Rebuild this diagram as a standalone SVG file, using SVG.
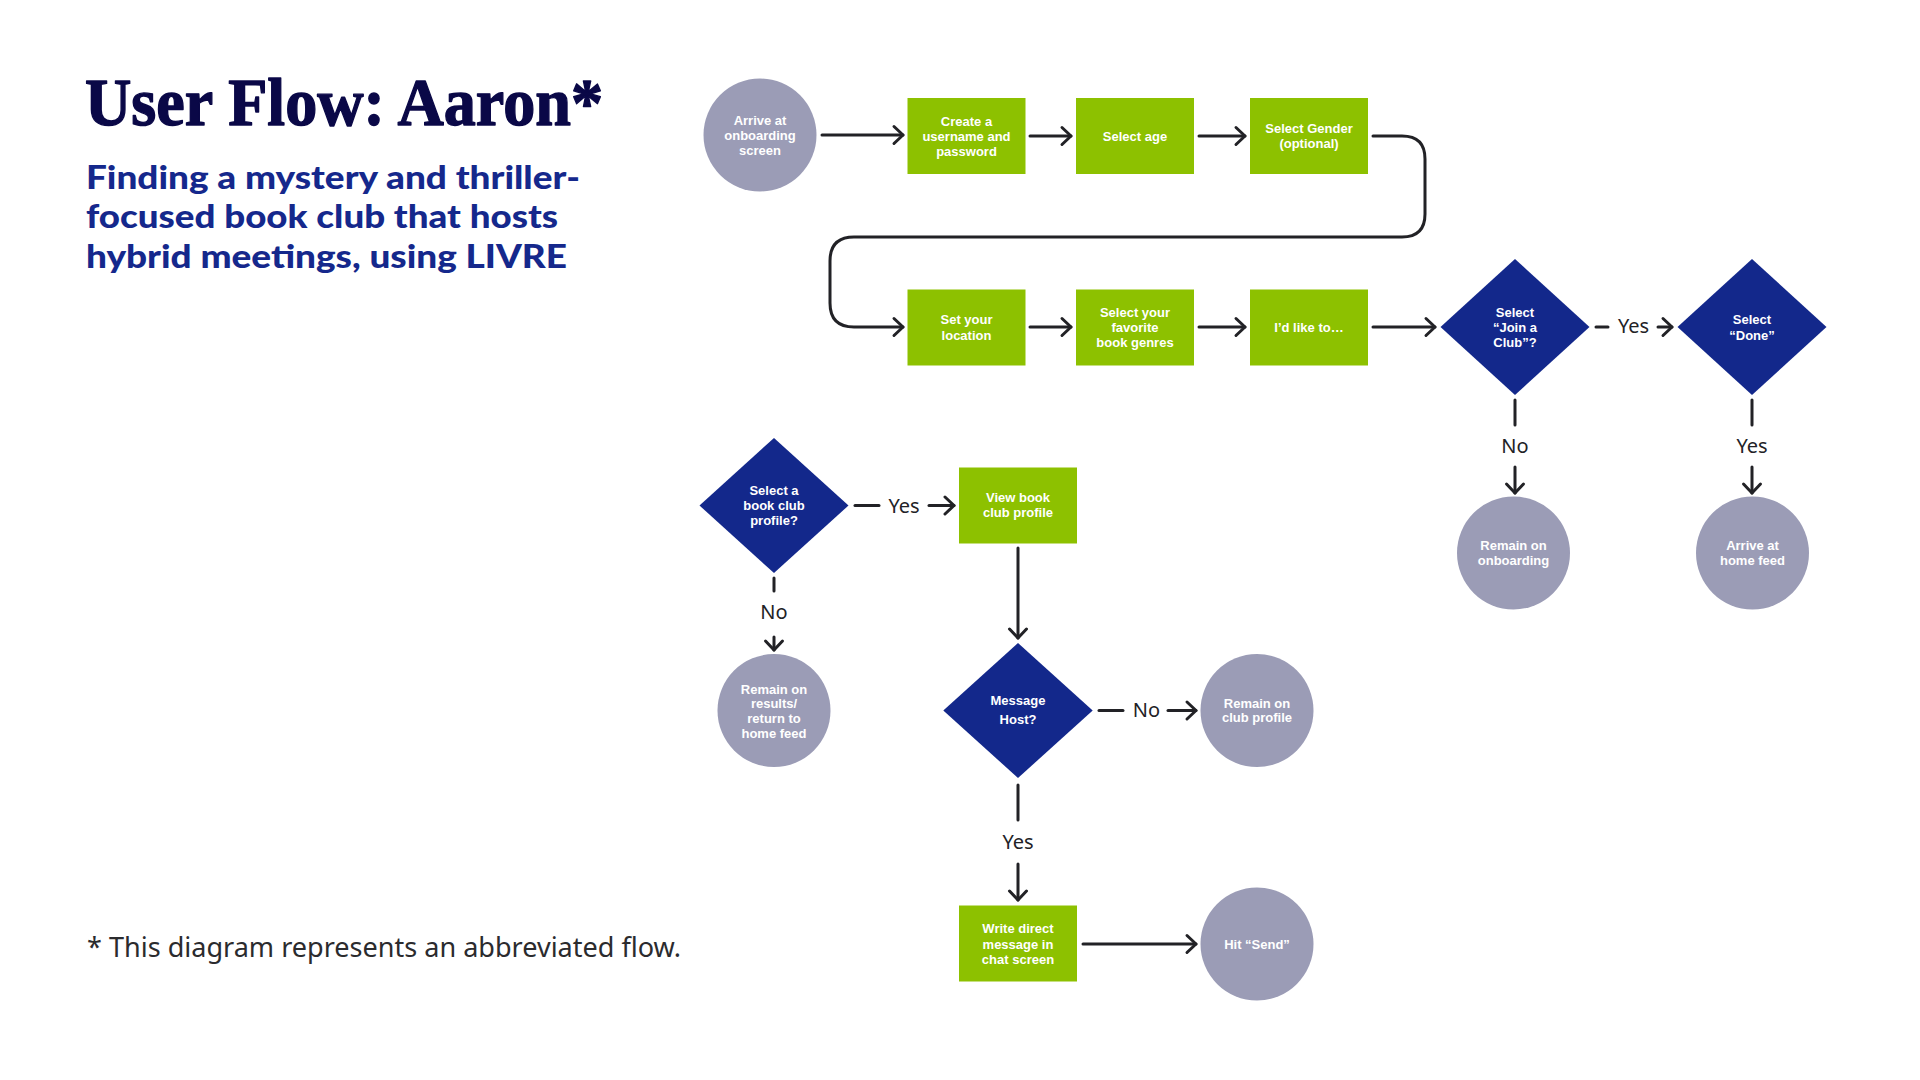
<svg xmlns="http://www.w3.org/2000/svg" width="1920" height="1080" viewBox="0 0 1920 1080">
<defs>
<marker id="ah" viewBox="-12 -11 14 22" refX="0" refY="0" markerWidth="14" markerHeight="22" markerUnits="userSpaceOnUse" orient="auto" overflow="visible">
<path d="M-9,-8.5 L0,0 L-9,8.5" fill="none" stroke="#222226" stroke-width="3" stroke-linecap="round" stroke-linejoin="round"/>
</marker>
<style>
.bg{fill:#ffffff}
.rect{fill:#8DC100}
.dia{fill:#13288B}
.circ{fill:#9B9CB6}
.nt{font-family:"Liberation Sans","Noto Sans",Arial,sans-serif;font-weight:bold;font-size:13px;fill:#ffffff;text-anchor:middle}
.ln{fill:none;stroke:#222226;stroke-width:3;stroke-linecap:round}
.arr{fill:none;stroke:#222226;stroke-width:3;stroke-linecap:round;marker-end:url(#ah)}
.lbl{font-family:"Noto Sans","Liberation Sans",Arial,sans-serif;font-size:20px;fill:#222226;text-anchor:middle}
.title{font-family:"Liberation Serif","DejaVu Serif",serif;font-weight:bold;font-size:68px;fill:#0A0847;stroke:#0A0847;stroke-width:1.4;stroke-linejoin:round}
.sub{font-family:Lato,"Noto Sans","Liberation Sans",Arial,sans-serif;font-weight:900;font-size:32px;fill:#15288C}
.foot{font-family:"Noto Sans","Liberation Sans",Arial,sans-serif;font-size:27px;fill:#2b2b2e}
</style>
</defs>
<rect class="bg" x="0" y="0" width="1920" height="1080"/>

<g id="header">
<text class="title" x="85" y="124.5" textLength="518" lengthAdjust="spacingAndGlyphs">User Flow: Aaron*</text>
<text class="sub" x="86" y="188.5" textLength="494" lengthAdjust="spacingAndGlyphs">Finding a mystery and thriller-</text>
<text class="sub" x="86" y="228" textLength="472" lengthAdjust="spacingAndGlyphs">focused book club that hosts</text>
<text class="sub" x="86" y="268" textLength="481" lengthAdjust="spacingAndGlyphs">hybrid meetings, using LIVRE</text>
<text class="foot" x="87" y="957" textLength="594" lengthAdjust="spacingAndGlyphs">* This diagram represents an abbreviated flow.</text>
</g>

<g id="connectors">
<line class="arr" x1="822" y1="135" x2="903" y2="135"/>
<line class="arr" x1="1030" y1="136" x2="1071" y2="136"/>
<line class="arr" x1="1199" y1="136" x2="1245" y2="136"/>
<path class="arr" d="M1373,136 H1402 Q1425,136 1425,159 V214 Q1425,237 1402,237 H854 Q830,237 830,261 V303 Q830,327 854,327 H903"/>
<line class="arr" x1="1030" y1="327" x2="1071" y2="327"/>
<line class="arr" x1="1199" y1="327" x2="1245" y2="327"/>
<line class="arr" x1="1373" y1="327" x2="1435" y2="327"/>
<line class="ln" x1="1596" y1="327" x2="1608" y2="327"/>
<text class="lbl" x="1633.5" y="333">Yes</text>
<line class="arr" x1="1658" y1="327" x2="1672" y2="327"/>
<line class="ln" x1="1515" y1="400" x2="1515" y2="425"/>
<text class="lbl" x="1515" y="453">No</text>
<line class="arr" x1="1515" y1="467" x2="1515" y2="493"/>
<line class="ln" x1="1752" y1="400" x2="1752" y2="425"/>
<text class="lbl" x="1752" y="453">Yes</text>
<line class="arr" x1="1752" y1="467" x2="1752" y2="493"/>
<line class="ln" x1="855" y1="505.5" x2="879" y2="505.5"/>
<text class="lbl" x="904" y="512.5">Yes</text>
<line class="arr" x1="929" y1="505.5" x2="954" y2="505.5"/>
<line class="ln" x1="774" y1="578" x2="774" y2="591"/>
<text class="lbl" x="774" y="619">No</text>
<line class="arr" x1="774" y1="637" x2="774" y2="650"/>
<line class="arr" x1="1018" y1="548" x2="1018" y2="638"/>
<line class="ln" x1="1099" y1="710.5" x2="1123" y2="710.5"/>
<text class="lbl" x="1146.5" y="717">No</text>
<line class="arr" x1="1168" y1="710.5" x2="1196" y2="710.5"/>
<line class="ln" x1="1018" y1="785" x2="1018" y2="820"/>
<text class="lbl" x="1018" y="848.5">Yes</text>
<line class="arr" x1="1018" y1="864" x2="1018" y2="900"/>
<line class="arr" x1="1083" y1="944" x2="1196" y2="944"/>
</g>

<g id="n-arrive">
<circle class="circ" cx="760" cy="135" r="56.5"/>
<text class="nt" x="760" y="125">Arrive at</text>
<text class="nt" x="760" y="140">onboarding</text>
<text class="nt" x="760" y="155">screen</text>
</g>
<g id="n-create">
<rect class="rect" x="907.5" y="98" width="118" height="76"/>
<text class="nt" x="966.5" y="126">Create a</text>
<text class="nt" x="966.5" y="141">username and</text>
<text class="nt" x="966.5" y="156">password</text>
</g>
<g id="n-age">
<rect class="rect" x="1076" y="98" width="118" height="76"/>
<text class="nt" x="1135" y="141">Select age</text>
</g>
<g id="n-gender">
<rect class="rect" x="1250" y="98" width="118" height="76"/>
<text class="nt" x="1309" y="133">Select Gender</text>
<text class="nt" x="1309" y="148">(optional)</text>
</g>
<g id="n-location">
<rect class="rect" x="907.5" y="289.5" width="118" height="76"/>
<text class="nt" x="966.5" y="324">Set your</text>
<text class="nt" x="966.5" y="339.5">location</text>
</g>
<g id="n-genres">
<rect class="rect" x="1076" y="289.5" width="118" height="76"/>
<text class="nt" x="1135" y="317">Select your</text>
<text class="nt" x="1135" y="332">favorite</text>
<text class="nt" x="1135" y="347">book genres</text>
</g>
<g id="n-like">
<rect class="rect" x="1250" y="289.5" width="118" height="76"/>
<text class="nt" x="1309" y="332">I’d like to…</text>
</g>
<g id="n-join">
<polygon class="dia" points="1515,259 1589.5,327 1515,395 1440.5,327"/>
<text class="nt" x="1515" y="317">Select</text>
<text class="nt" x="1515" y="332">“Join a</text>
<text class="nt" x="1515" y="347">Club”?</text>
</g>
<g id="n-done">
<polygon class="dia" points="1752,259 1826.5,327 1752,395 1677.5,327"/>
<text class="nt" x="1752" y="324">Select</text>
<text class="nt" x="1752" y="339.5">“Done”</text>
</g>
<g id="n-remain-onboarding">
<circle class="circ" cx="1513.5" cy="553" r="56.5"/>
<text class="nt" x="1513.5" y="550">Remain on</text>
<text class="nt" x="1513.5" y="565">onboarding</text>
</g>
<g id="n-home-feed">
<circle class="circ" cx="1752.5" cy="553" r="56.5"/>
<text class="nt" x="1752.5" y="550">Arrive at</text>
<text class="nt" x="1752.5" y="565">home feed</text>
</g>
<g id="n-select-profile">
<polygon class="dia" points="774,438 848.5,505.5 774,573 699.5,505.5"/>
<text class="nt" x="774" y="495">Select a</text>
<text class="nt" x="774" y="510">book club</text>
<text class="nt" x="774" y="525">profile?</text>
</g>
<g id="n-view-profile">
<rect class="rect" x="959" y="467.5" width="118" height="76"/>
<text class="nt" x="1018" y="502">View book</text>
<text class="nt" x="1018" y="517">club profile</text>
</g>
<g id="n-remain-results">
<circle class="circ" cx="774" cy="710.5" r="56.5"/>
<text class="nt" x="774" y="693.5">Remain on</text>
<text class="nt" x="774" y="708">results/</text>
<text class="nt" x="774" y="723">return to</text>
<text class="nt" x="774" y="737.5">home feed</text>
</g>
<g id="n-message-host">
<polygon class="dia" points="1018,643 1092.7,710.5 1018,778 943.3,710.5"/>
<text class="nt" x="1018" y="705">Message</text>
<text class="nt" x="1018" y="724">Host?</text>
</g>
<g id="n-remain-club">
<circle class="circ" cx="1257" cy="710.5" r="56.5"/>
<text class="nt" x="1257" y="707.5">Remain on</text>
<text class="nt" x="1257" y="722">club profile</text>
</g>
<g id="n-write">
<rect class="rect" x="959" y="905.5" width="118" height="76"/>
<text class="nt" x="1018" y="933">Write direct</text>
<text class="nt" x="1018" y="948.5">message in</text>
<text class="nt" x="1018" y="963.5">chat screen</text>
</g>
<g id="n-send">
<circle class="circ" cx="1257" cy="944" r="56.5"/>
<text class="nt" x="1257" y="949">Hit “Send”</text>
</g>
</svg>
